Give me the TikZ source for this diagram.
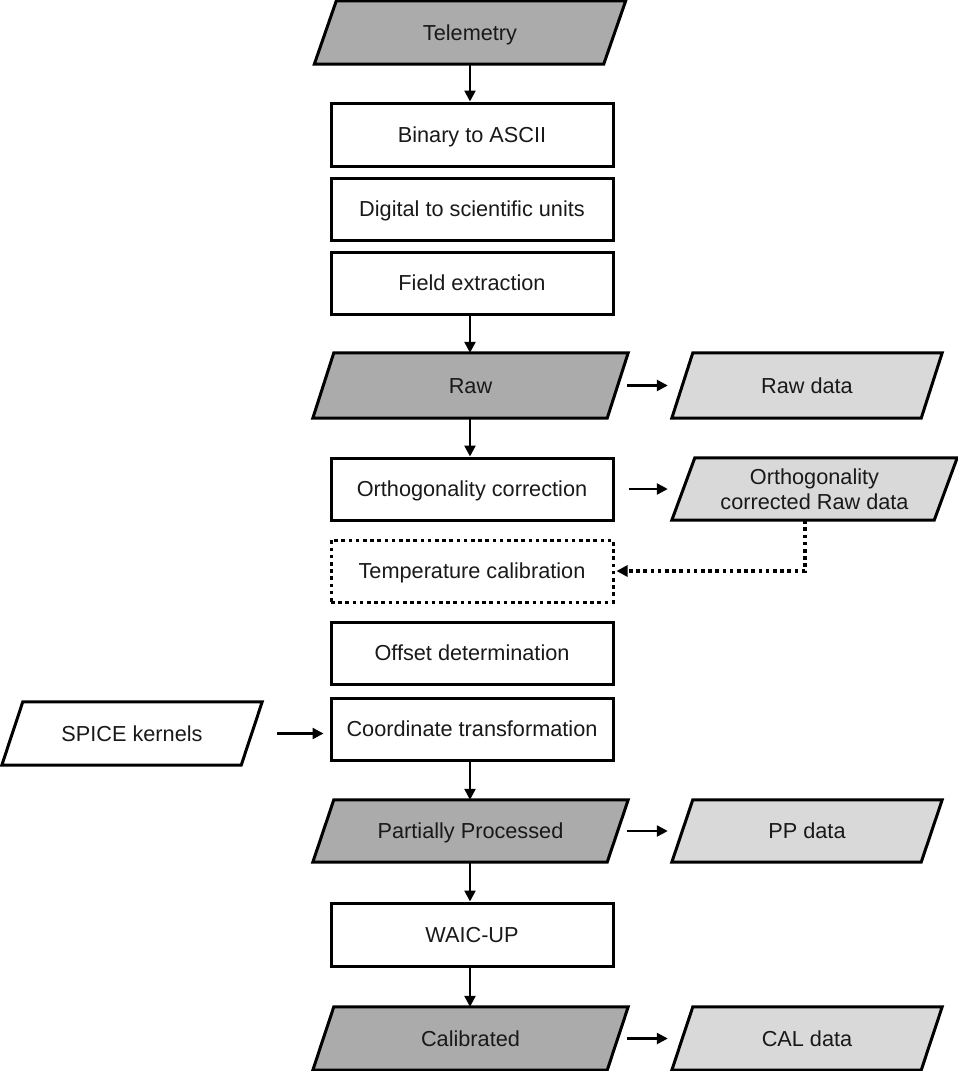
\documentclass[tikz,border=0pt]{standalone}
\usepackage{fontspec}
\setmainfont{Liberation Sans}
\usetikzlibrary{arrows.meta,backgrounds}
\definecolor{darkfill}{HTML}{ABABAB}
\definecolor{lightfill}{HTML}{D9D9D9}
\newcommand\parashape[3]{\draw[line width=3pt, fill=#2, line join=miter] ([xshift=#3]#1.north west) -- (#1.north east) -- ([xshift=-#3]#1.south east) -- (#1.south west) -- cycle;}
\begin{document}
\begin{tikzpicture}[x=1pt,y=-1pt,
 txt/.style={font=\fontsize{21.7}{25}\selectfont, align=center, inner sep=0pt, text height=15.6pt, text depth=0pt, text=black!90},
 box/.style={txt, draw, line width=3pt, rectangle, minimum width=282pt, minimum height=63pt},
 dotbox/.style={box, dash pattern=on 3.6pt off 3.6pt},
 pbox/.style={txt, rectangle, minimum height=63pt},
 arr/.style={line width=2.4pt, -{Triangle[length=11pt,width=11pt]}},
 dotline/.style={line width=3.2pt, dash pattern=on 3.6pt off 3.6pt, -{Triangle[length=11pt,width=11pt]}}
]
\useasboundingbox (0,0) rectangle (958,1071);

% main column
\node[pbox, minimum width=311pt] (tel) at (470,32.5) {Telemetry};
\node[box] (bin) at (472,134.5) {Binary to ASCII};
\node[box, minimum height=62pt] (dig) at (472,209) {Digital to scientific units};
\node[box, minimum height=62pt] (fld) at (472,283) {Field extraction};
\node[pbox, minimum width=315pt, minimum height=65pt] (raw) at (470.5,385.5) {Raw};
\node[box, minimum height=62pt] (ort) at (472,489) {Orthogonality correction};
\node[dotbox, minimum height=62pt] (tmp) at (472,571) {Temperature calibration};
\node[box, minimum height=62pt] (off) at (472,653) {Offset determination};
\node[box, minimum height=62pt] (crd) at (472,729) {Coordinate transformation};
\node[pbox, minimum width=315pt, minimum height=62pt] (pp) at (470.5,831) {Partially Processed};
\node[box] (waic) at (472,934.5) {WAIC-UP};
\node[pbox, minimum width=315pt] (cal) at (470.5,1038.5) {Calibrated};

% right column
\node[pbox, minimum width=270pt, minimum height=65pt] (rawd) at (807,385.5) {Raw data};
\node[pbox, minimum width=285pt, minimum height=62pt, text height={}] (ortd) at (814.5,489) {Orthogonality\\corrected Raw data};
\node[pbox, minimum width=270pt, minimum height=62pt] (ppd) at (807,831) {PP data};
\node[pbox, minimum width=270pt] (cald) at (807,1038.5) {CAL data};

% left
\node[pbox, minimum width=260pt] (spice) at (132,733.5) {SPICE kernels};

\begin{scope}[on background layer]
\parashape{tel}{darkfill}{22pt}
\parashape{raw}{darkfill}{21pt}
\parashape{pp}{darkfill}{21pt}
\parashape{cal}{darkfill}{21pt}
\parashape{rawd}{lightfill}{21pt}
\parashape{ortd}{lightfill}{23pt}
\parashape{ppd}{lightfill}{21pt}
\parashape{cald}{lightfill}{21pt}
\parashape{spice}{white}{21pt}
\end{scope}

% vertical arrows
\draw[arr] ([xshift=-2pt]bin.north |- tel.south) -- ([xshift=-2pt]bin.north);
\draw[arr] ([xshift=-2pt]fld.south) -- ([xshift=-2pt]fld.south |- raw.north);
\draw[arr] ([xshift=-2pt]ort.north |- raw.south) -- ([xshift=-2pt]ort.north);
\draw[arr] ([xshift=-2pt]crd.south) -- ([xshift=-2pt]crd.south |- pp.north);
\draw[arr] ([xshift=-2pt]waic.north |- pp.south) -- ([xshift=-2pt]waic.north);
\draw[arr] ([xshift=-2pt]waic.south) -- ([xshift=-2pt]waic.south |- cal.north);

% horizontal arrows
\draw[arr] ([xshift=-1pt]raw.east) -- ([xshift=-4pt]rawd.west);
\draw[arr] ([xshift=14pt]ort.east) -- ([xshift=-4pt]ortd.west);
\draw[arr] ([xshift=-1pt]pp.east) -- ([xshift=-4pt]ppd.west);
\draw[arr] ([xshift=-1pt]cal.east) -- ([xshift=-4pt]cald.west);
\draw[arr] ([xshift=15pt]spice.east) -- ([xshift=-6pt]spice.east -| crd.west);

% dotted connector
\draw[dotline] ([xshift=-9.5pt]ortd.south) |- ([xshift=2pt]tmp.east);
\end{tikzpicture}
\end{document}
